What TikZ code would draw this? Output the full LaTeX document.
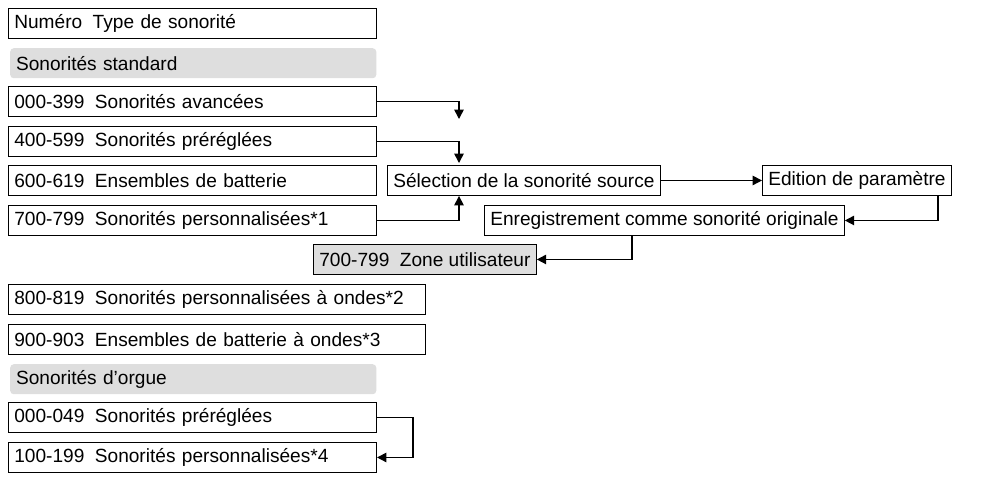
\documentclass[tikz,border=0pt]{standalone}
\usepackage{fontspec}
\setmainfont{Liberation Sans}
\usetikzlibrary{arrows.meta}
\usetikzlibrary{positioning}
\definecolor{zonegray}{gray}{0.87}

\begin{document}
\begin{tikzpicture}[x=0.03cm,y=-0.03cm,
  box/.style={draw=black, line width=0.8pt, anchor=north west, inner xsep=5pt, inner ysep=0pt, minimum height=0.9cm, align=left, font=\fontsize{16.3}{18}\selectfont},
  band/.style={fill=zonegray, rounded corners=3pt, anchor=north west, inner xsep=5pt, inner ysep=0pt, minimum height=0.9cm, align=left, font=\fontsize{16.3}{18}\selectfont},
  link/.style={line width=1.3pt, -{Triangle[length=8pt,width=8pt]}}]
\useasboundingbox (0,0) rectangle (990,490);
\newcommand{\sep}{\hspace{0.55em}}
% colonne de gauche
\node[box, text width=10.69cm] (head) at (8,8) {Numéro\sep Type de sonorité};
\node[band, text width=10.63cm] (std) at (10,48) {Sonorités standard};
\node[box, text width=10.69cm] (s000) at (8,86) {000-399\sep Sonorités avancées};
\node[box, text width=10.69cm] (s400) at (8,126) {400-599\sep Sonorités préréglées};
\node[box, text width=10.69cm] (s600) at (8,165) {600-619\sep Ensembles de batterie};
\node[box, text width=10.69cm] (s700) at (8,205) {700-799\sep Sonorités personnalisées*1};
\node[box, text width=12.15cm] (s800) at (8,284) {800-819\sep Sonorités personnalisées à ondes*2};
\node[box, text width=12.15cm] (s900) at (8,324) {900-903\sep Ensembles de batterie à ondes*3};
\node[band, text width=10.63cm] (org) at (10,364) {Sonorités d’orgue};
\node[box, text width=10.69cm] (o000) at (8,402) {000-049\sep Sonorités préréglées};
\node[box, text width=10.69cm] (o100) at (8,442) {100-199\sep Sonorités personnalisées*4};
% chaine d'edition
\node[box] (src) at (387,165) {Sélection de la sonorité source};
\node[box] (edit) at (762,165) {Edition de paramètre};
\node[box] (rec) at (484,205) {Enregistrement comme sonorité originale};
\node[box, fill=zonegray] (zone) at (313,244) {700-799\sep Zone utilisateur};
\coordinate (c1) at (459,119);
\coordinate (c2) at (459,163);
\coordinate (e1) at (938,196);
\coordinate (r1) at (632,236);
% connecteurs
\draw[link] (s000.east) -| (c1);
\draw[link] (s400.east) -| (c2);
\draw[link] (s700.east) -| (src.south -| c2);
\draw[link] (src.east) -- (edit.west);
\draw[link] (e1) |- (rec.east);
\draw[link] (r1) |- (zone.east);
\draw[link] (o000.east) -| ++(36,0) |- (o100.east);
\end{tikzpicture}
\end{document}
